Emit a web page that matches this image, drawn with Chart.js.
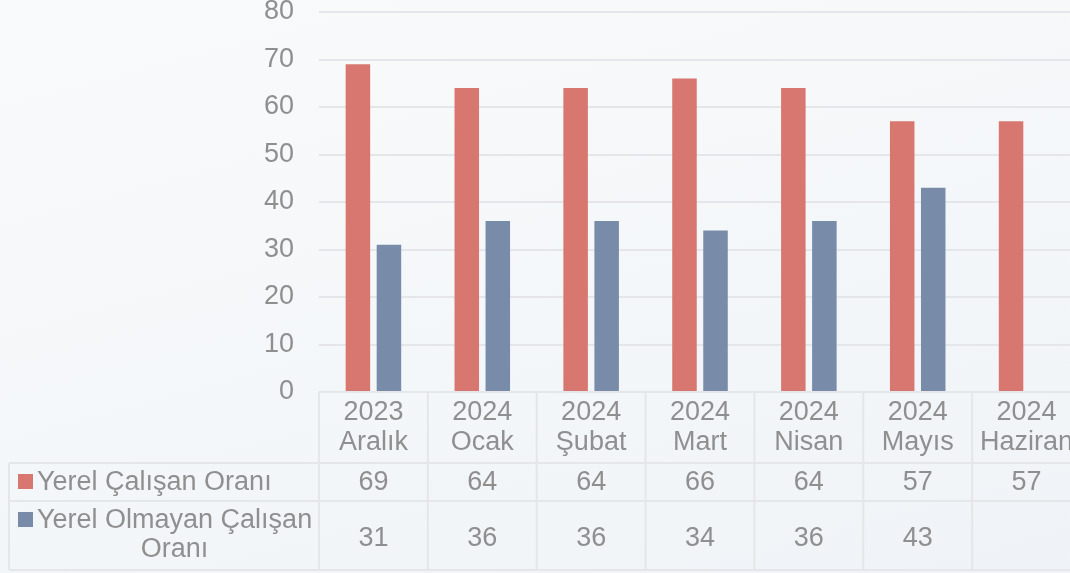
<!DOCTYPE html>
<html><head><meta charset="utf-8">
<script src="https://cdn.jsdelivr.net/npm/chart.js@4/dist/chart.umd.min.js"></script>
<style>
html,body{margin:0;padding:0;width:1070px;height:573px;overflow:hidden;
background:linear-gradient(165deg,#f9fafb 0%,#f4f7f9 55%,#eff3f7 100%);}
#wrap{position:absolute;left:0;top:0;width:1081px;height:573px;}
</style></head><body>
<div id="wrap"><canvas id="c" width="1081" height="573"></canvas></div>
<script>
const categories = [['2023','Aralık'],['2024','Ocak'],['2024','Şubat'],['2024','Mart'],['2024','Nisan'],['2024','Mayıs'],['2024','Haziran']];
const seriesNames = ['Yerel Çalışan Oranı','Yerel Olmayan Çalışan Oranı'];
const localRate = [69,64,64,66,64,57,57];
const nonLocalRate = [31,36,36,34,36,43,null];
const yTickValues = [0,10,20,30,40,50,60,70,80];

const TEXT = '#8f8f8f';
const GRID = '#e4e6e9';
const FONT = "'Liberation Sans', Arial, sans-serif";
const FSIZE = 27;
const RED = '#d7776f';
const BLUE = '#788ba8';

const tablePlugin = {
  id: 'dataTable',
  afterDraw(chart) {
    const ctx = chart.ctx, xs = chart.scales.x, area = chart.chartArea;
    const n = categories.length;
    const colW = (area.right - area.left) / n;
    const tLeft = 9, top = area.bottom, r1 = 463, r2 = 501, bottom = 570;
    ctx.save();
    ctx.strokeStyle = GRID; ctx.lineWidth = 2;
    const ln = (a, b, c, d) => { ctx.beginPath(); ctx.moveTo(a, b); ctx.lineTo(c, d); ctx.stroke(); };
    ln(area.left, top, area.right, top);
    ln(tLeft, r1, area.right, r1);
    ln(tLeft, r2, area.right, r2);
    ln(tLeft, bottom, area.right, bottom);
    ln(tLeft, r1, tLeft, bottom);
    for (let i = 0; i <= n; i++) {
      const x = area.left + i * colW;
      ln(x, top, x, bottom);
    }
    ctx.font = FSIZE + 'px ' + FONT;
    ctx.fillStyle = TEXT;
    ctx.textAlign = 'center';
    ctx.textBaseline = 'alphabetic';
    const rows = [{ base: 490, vals: chart.data.datasets[0].data }, { base: 546, vals: chart.data.datasets[1].data }];
    rows.forEach(r => {
      r.vals.forEach((v, i) => {
        if (v === null || v === undefined) return;
        ctx.fillText(String(v), xs.getPixelForValue(i), r.base);
      });
    });
    const maxW = 285;
    const wrap = (s) => {
      const words = s.split(' '); const lines = []; let cur = '';
      words.forEach(w => {
        const t = cur ? cur + ' ' + w : w;
        if (ctx.measureText(t).width > maxW && cur) { lines.push(cur); cur = w; } else cur = t;
      });
      lines.push(cur); return lines;
    };
    const labelBases = [[490], [528, 557]];
    chart.data.datasets.forEach((ds, k) => {
      const lines = wrap(ds.label);
      const b = labelBases[k];
      ctx.fillStyle = ds.backgroundColor;
      ctx.fillRect(18, b[0] - 16, 15, 15);
      ctx.fillStyle = TEXT;
      ctx.textAlign = 'left';
      ctx.fillText(lines[0], 37, b[0]);
      const w1 = ctx.measureText(lines[0]).width;
      ctx.textAlign = 'center';
      for (let j = 1; j < lines.length; j++) ctx.fillText(lines[j], 37 + w1 / 2, b[j]);
    });
    ctx.restore();
  }
};

new Chart(document.getElementById('c'), {
  type: 'bar',
  data: {
    labels: categories,
    datasets: [
      { label: seriesNames[0], data: localRate, backgroundColor: RED, categoryPercentage: 0.57, barPercentage: 0.79 },
      { label: seriesNames[1], data: nonLocalRate, backgroundColor: BLUE, categoryPercentage: 0.57, barPercentage: 0.79 }
    ]
  },
  options: {
    responsive: false,
    animation: false,
    events: [],
    layout: { autoPadding: false, padding: { top: 12, left: 0, right: 0, bottom: 0 } },
    plugins: { legend: { display: false }, tooltip: { enabled: false }, title: { display: false } },
    scales: {
      x: {
        grid: { display: false, drawTicks: false },
        border: { display: false },
        ticks: { color: TEXT, font: { family: FONT, size: FSIZE, lineHeight: 30 / FSIZE }, padding: 6, maxRotation: 0, autoSkip: false },
        afterFit: s => { s.height = 573 - 392; s.paddingLeft = 0; s.paddingRight = 0; }
      },
      y: {
        min: 0, max: 80,
        afterBuildTicks: s => { s.ticks = yTickValues.map(v => ({ value: v })); },
        grid: { color: GRID, lineWidth: 2, drawTicks: false },
        border: { display: false },
        ticks: { color: TEXT, font: { family: FONT, size: FSIZE }, padding: 25 },
        afterFit: s => { s.width = 319; s.paddingTop = 0; s.paddingBottom = 0; }
      }
    }
  },
  plugins: [tablePlugin]
});
</script>
</body></html>
